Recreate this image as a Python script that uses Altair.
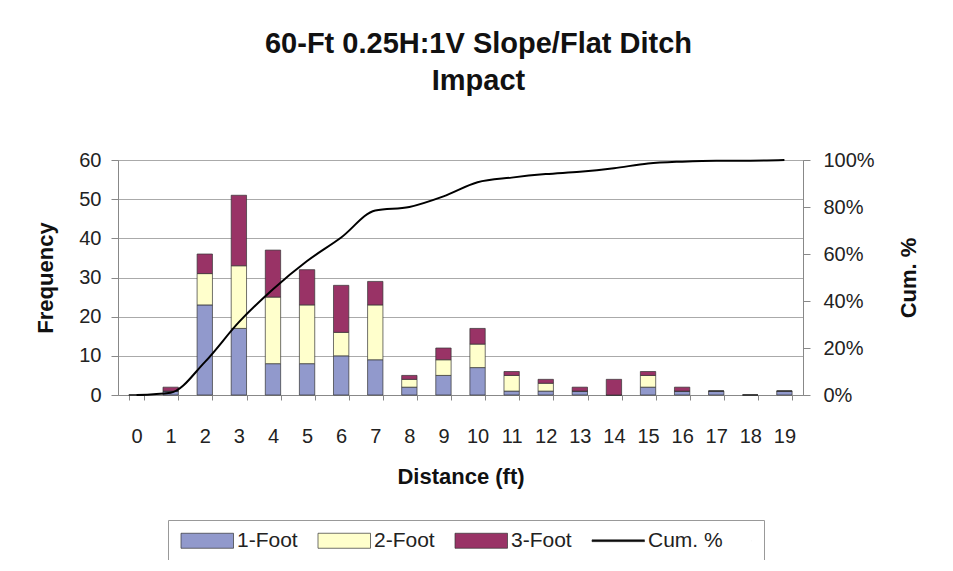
import altair as alt
import pandas as pd

distance = list(range(20))
foot1 = [0, 1, 23, 17, 8, 8, 10, 9, 2, 5, 7, 1, 1, 1, 0, 2, 1, 1, 0, 1]
foot2 = [0, 0, 8, 16, 17, 15, 6, 14, 2, 4, 6, 4, 2, 0, 0, 3, 0, 0, 0, 0]
foot3 = [0, 1, 5, 18, 12, 9, 12, 6, 1, 3, 4, 1, 1, 1, 4, 1, 1, 0, 0, 0]
cum_pct = [0.0, 0.01, 0.14, 0.31, 0.45, 0.57, 0.67, 0.785, 0.80, 0.845, 0.905,
           0.925, 0.94, 0.95, 0.965, 0.985, 0.993, 0.997, 0.997, 1.0]

series = ["1-Foot", "2-Foot", "3-Foot", "Cum. %"]
colors = ["#9199CC", "#FFFFCC", "#993366", "#000000"]

rows = []
for i, d in enumerate(distance):
    for k, vals in enumerate([foot1, foot2, foot3]):
        rows.append({"Distance": str(d), "series": series[k], "ord": k, "value": vals[i]})
bars_df = pd.DataFrame(rows)
line_df = pd.DataFrame({"Distance": [str(d) for d in distance], "series": "Cum. %", "cum": cum_pct})

FONT = "Liberation Sans"
x_sort = [str(d) for d in distance]
xscale = alt.Scale(domain=x_sort, paddingInner=0.55, paddingOuter=0.32)

legend = alt.Legend(
    title=None, orient="none", direction="horizontal", columns=4,
    legendX=50, legendY=360,
    symbolType={"expr": "datum.label === 'Cum. %' ? 'M-1,-0.12H6V0.12H-1Z M20.3,0L20.31,0' : 'M-1,-1H6V1H-1Z'"},
    symbolSize=225, symbolStrokeColor="#333333", symbolStrokeWidth=0.7,
    symbolOpacity=1,
    labelFont=FONT, labelFontSize=21, labelColor="#222222",
    labelOffset=38, columnPadding=17, padding=10,
    strokeColor="#999999", fillColor="white")

bars = alt.Chart(bars_df).mark_bar(stroke="#333333", strokeWidth=0.7).encode(
    x=alt.X("Distance:N", sort=x_sort, scale=xscale,
            axis=alt.Axis(title="Distance (ft)", labelAngle=0, tickBand="extent",
                          tickSize=5, labelPadding=26, titlePadding=20, grid=False)),
    y=alt.Y("value:Q", stack="zero", scale=alt.Scale(domain=[0, 60]),
            axis=alt.Axis(title="Frequency", values=[0, 10, 20, 30, 40, 50, 60],
                          tickSize=7, labelPadding=10, titlePadding=21, grid=True)),
    fill=alt.Fill("series:N", scale=alt.Scale(domain=series, range=colors), legend=legend),
    order=alt.Order("ord:Q", sort="ascending"),
)

line = alt.Chart(line_df).mark_line(color="black", strokeWidth=2, interpolate="monotone").encode(
    x=alt.X("Distance:N", sort=x_sort, scale=xscale),
    y=alt.Y("cum:Q", scale=alt.Scale(domain=[0, 1]),
            axis=alt.Axis(title="Cum. %", format=".0%", orient="right",
                          values=[0, 0.2, 0.4, 0.6, 0.8, 1.0], tickSize=7,
                          labelPadding=13, titlePadding=46, titleAngle=270, grid=False)),
)

chart = alt.layer(bars, line).resolve_scale(y="independent").properties(
    width=685, height=235,
    autosize=alt.AutoSizeParams(type="none"),
    padding={"left": 110, "top": 152, "right": 142, "bottom": 165},
    title=alt.TitleParams(["60-Ft 0.25H:1V Slope/Flat Ditch", "Impact"],
                          font=FONT, fontSize=29, fontWeight="bold", color="#111111",
                          anchor="middle", offset=54, lineHeight=37, dx=18),
).configure_view(stroke="#999999", strokeWidth=1).configure_axis(
    labelFont=FONT, labelFontSize=20, labelColor="#222222",
    titleFont=FONT, titleFontSize=22, titleFontWeight="bold", titleColor="#111111",
    domainColor="#888888", tickColor="#888888", gridColor="#AAAAAA", gridWidth=1,
)

chart.save("out.html", embed_options={"renderer": "svg", "actions": False})
